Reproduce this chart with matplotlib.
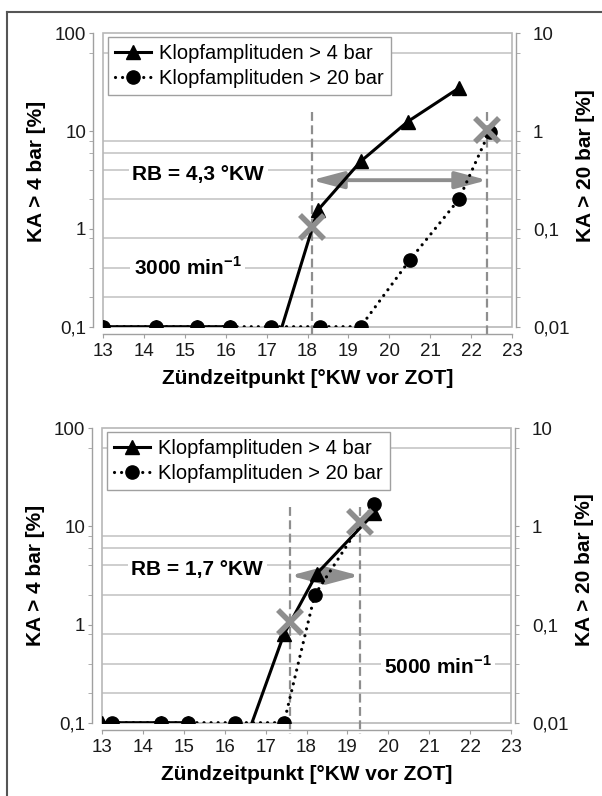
import numpy as np
import matplotlib.pyplot as plt
from matplotlib.patches import Rectangle
from matplotlib.lines import Line2D
from matplotlib.ticker import NullFormatter

plt.rcParams['font.family'] = ['Liberation Sans', 'DejaVu Sans']
plt.rcParams['mathtext.fontset'] = 'custom'
plt.rcParams['mathtext.rm'] = 'Liberation Sans'
plt.rcParams['mathtext.bf'] = 'Liberation Sans:bold'

# --- Daten ---
# 3000 min-1
tri_x_3000 = [13.0, 14.3, 15.3, 16.1, 17.1, 18.25, 19.3, 20.45, 21.7]
tri_y_3000 = [0.1, 0.1, 0.1, 0.1, 0.042, 1.55, 4.9, 12.5, 27.5]
circ_x_3000 = [13.0, 14.3, 15.3, 16.1, 17.1, 18.3, 19.3, 20.5, 21.7, 22.45]
circ_y_3000 = [0.01, 0.01, 0.01, 0.01, 0.01, 0.01, 0.01, 0.048, 0.2, 0.99]
rb_3000 = [18.1, 22.4]
cross_y_3000 = [1.05, 10.3]

# 5000 min-1
tri_x_5000 = [13.0, 14.45, 15.1, 16.25, 17.45, 18.25, 19.65]
tri_y_5000 = [0.1, 0.1, 0.1, 0.033, 0.8, 3.3, 13.6]
circ_x_5000 = [13.25, 14.45, 15.1, 16.25, 17.45, 18.2, 19.65]
circ_y_5000 = [0.01, 0.01, 0.01, 0.01, 0.01, 0.2, 1.7]
rb_5000 = [17.6, 19.3]
cross_y_5000 = [1.05, 11.0]

# Gitterlinien (linke Achse)
grid_vals = [62.5, 8, 6, 4, 2, 0.8, 0.4, 0.2]

x_ticks = list(range(13, 24))
left_ticks = [0.1, 1, 10, 100]
left_labels = ['0,1', '1', '10', '100']
right_ticks = [0.01, 0.1, 1, 10]
right_labels = ['0,01', '0,1', '1', '10']

GRID = '#c6c6c6'
AX_C = '#a0a0a0'
MARK_C = '#8e8e8e'


def draw_panel(ax, tri_x, tri_y, circ_x, circ_y, rb, cross_y, rb_text,
               speed_text, speed_xy, ylab_y):
    ax2 = ax.twinx()
    ax.set_xlim(13, 23)
    ax.set_yscale('log')
    ax.set_ylim(0.1, 100)
    ax2.set_yscale('log')
    ax2.set_ylim(0.01, 10)

    for g in grid_vals:
        ax.axhline(g, color=GRID, lw=1.2, zorder=0.5)
    ax.add_patch(Rectangle((0, 0), 1, 1, transform=ax.transAxes, fill=False,
                           ec='#b8b8b8', lw=1.2, zorder=0.6, clip_on=False))

    # Achsen im Excel-Stil
    for s in ['top', 'right']:
        ax.spines[s].set_visible(False)
    for s in ['top', 'left', 'bottom']:
        ax2.spines[s].set_visible(False)
    ax.spines['left'].set_position(('outward', 7))
    ax.spines['bottom'].set_position(('outward', 5))
    ax2.spines['right'].set_position(('outward', 3))
    for sp in [ax.spines['left'], ax.spines['bottom'], ax2.spines['right']]:
        sp.set_color(AX_C)
        sp.set_linewidth(1.0)

    ax.set_xticks(x_ticks)
    ax.set_xticklabels([str(t) for t in x_ticks])
    ax.set_yticks(left_ticks)
    ax.set_yticklabels(left_labels)
    ax.set_yticks(grid_vals, minor=True)
    ax.yaxis.set_minor_formatter(NullFormatter())
    ax2.set_yticks(right_ticks)
    ax2.set_yticklabels(right_labels)
    ax2.set_yticks([g / 10 for g in grid_vals], minor=True)
    ax2.yaxis.set_minor_formatter(NullFormatter())

    ax.tick_params(axis='both', which='both', direction='out', length=3,
                   color=AX_C, labelsize=13.5, labelcolor='#1a1a1a')
    ax.tick_params(axis='x', pad=4)
    ax.tick_params(axis='y', pad=2)
    ax2.tick_params(axis='y', which='both', direction='out', length=3,
                    color=AX_C, labelsize=13.5, labelcolor='#1a1a1a', pad=9)

    # Reaktionsbreite
    for xv in rb:
        ax.plot([xv, xv], [15.8, 0.076], ls=(0, (4, 2)), color=MARK_C,
                lw=1.6, zorder=2, clip_on=False)
    ax.annotate('', xy=(rb[0], 3.15), xytext=(rb[1], 3.15),
                arrowprops=dict(arrowstyle='<|-|>,head_length=1.2,head_width=0.32',
                                color=MARK_C, lw=2.8, shrinkA=0, shrinkB=0,
                                mutation_scale=16), zorder=2.5)

    l1, = ax.plot(tri_x, tri_y, color='black', lw=2.2, marker='^', ms=10.5,
                  zorder=3, label='Klopfamplituden > 4 bar')
    l2, = ax2.plot(circ_x, circ_y, color='black', lw=2.3,
                   ls=(0, (0.01, 2.2)), dash_capstyle='round',
                   marker='o', ms=9.5, zorder=3,
                   label='Klopfamplituden > 20 bar')
    ax2.plot(rb, cross_y, transform=ax.transData, ls='none', marker='x',
             ms=17, mew=4, color=MARK_C, zorder=5)

    ax.text(13.72, 3.6, rb_text, fontsize=15, fontweight='bold', va='center',
            ha='left', zorder=2,
            bbox=dict(facecolor='white', edgecolor='none', pad=2.5))
    ax.text(speed_xy[0], speed_xy[1], speed_text, fontsize=15,
            fontweight='bold', va='center', ha='left', zorder=2,
            bbox=dict(facecolor='white', edgecolor='none', pad=2.5))

    leg = ax2.legend(handles=[l1, l2], loc='upper left',
                     bbox_to_anchor=(0.012, 0.988), borderaxespad=0,
                     fontsize=14.5, fancybox=False, edgecolor='#a0a0a0',
                     framealpha=1, handlelength=1.8, handletextpad=0.4,
                     borderpad=0.35, labelspacing=0.3)
    leg.get_frame().set_linewidth(1.0)

    ax.set_xlabel('Zündzeitpunkt [°KW vor ZOT]', fontsize=15,
                  fontweight='bold')
    ax.xaxis.set_label_coords(0.5, -0.145)
    ax.set_ylabel('KA > 4 bar [%]', fontsize=15, fontweight='bold')
    ax.yaxis.set_label_coords(-0.14, ylab_y)
    ax2.set_ylabel('KA > 20 bar [%]', fontsize=15, fontweight='bold',
                   rotation=90)
    ax2.yaxis.set_label_coords(1.157, ylab_y + 0.02)
    return ax2


fig = plt.figure(figsize=(6.02, 7.96), dpi=100)
W, H = 602.0, 796.0

ax_top = fig.add_axes([103 / W, 1 - 326.7 / H, 409 / W, 293.4 / H])
draw_panel(ax_top, tri_x_3000, tri_y_3000, circ_x_3000, circ_y_3000,
           rb_3000, cross_y_3000, 'RB = 4,3 °KW',
           r'3000 min$^{\mathbf{-1}}$', (13.75, 0.4), 0.53)

ax_bot = fig.add_axes([102 / W, 1 - 722.7 / H, 409 / W, 294.4 / H])
draw_panel(ax_bot, tri_x_5000, tri_y_5000, circ_x_5000, circ_y_5000,
           rb_5000, cross_y_5000, 'RB = 1,7 °KW',
           r'5000 min$^{\mathbf{-1}}$', (19.9, 0.37), 0.5)

# Rahmen (nur links und oben sichtbar)
fig.add_artist(Line2D([7 / W, 7 / W], [0, 1 - 12 / H], transform=fig.transFigure,
                      color='#555555', lw=1.5))
fig.add_artist(Line2D([7 / W, 1], [1 - 12 / H, 1 - 12 / H],
                      transform=fig.transFigure, color='#555555', lw=1.5))

fig.savefig('out.png', dpi=100, facecolor='white')
